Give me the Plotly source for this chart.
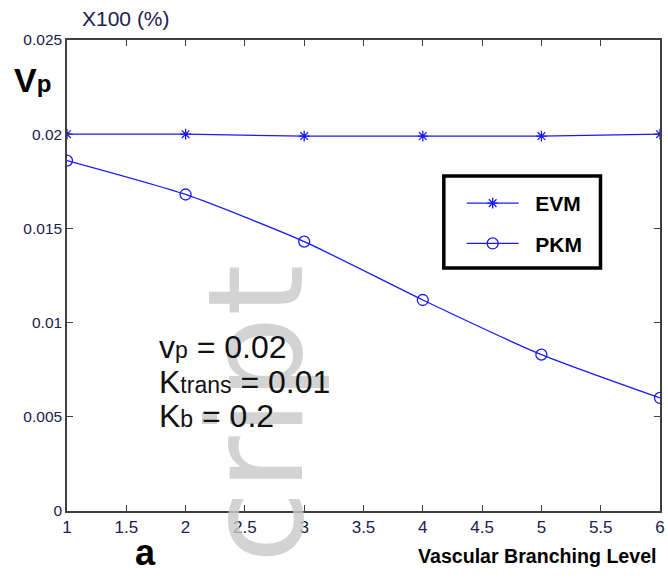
import plotly.graph_objects as go

levels = [1, 2, 3, 4, 5, 6]
evm = [0.0200, 0.0200, 0.0199, 0.0199, 0.0199, 0.0200]
pkm = [0.0186, 0.0168, 0.0143, 0.0112, 0.0083, 0.0060]
x_ticks = [1, 1.5, 2, 2.5, 3, 3.5, 4, 4.5, 5, 5.5, 6]
x_ticklabels = ["1", "1.5", "2", "2.5", "3", "3.5", "4", "4.5", "5", "5.5", "6"]
y_ticks = [0, 0.005, 0.01, 0.015, 0.02, 0.025]
y_ticklabels = ["0", "0.005", "0.01", "0.015", "0.02", "0.025"]

blue = "#1a1aff"
nb = "\u00a0"
fig = go.Figure()
fig.add_trace(go.Scatter(
    x=levels, y=evm, name=nb * 2 + "<b>EVM</b>", mode="lines+markers", legendgroup="a",
    line=dict(color=blue, width=1.3),
    marker=dict(symbol="asterisk-open", size=9, line=dict(color=blue, width=1.3), color=blue),
))
fig.add_trace(go.Scatter(
    x=levels, y=pkm, name=nb * 2 + "<b>PKM</b>", mode="lines+markers", legendgroup="b",
    line=dict(color=blue, width=1.3, shape="spline", smoothing=0.6),
    marker=dict(symbol="circle-open", size=11, line=dict(color=blue, width=1.3), color=blue),
))

tick_color = "#202050"
axis_common = dict(
    showline=True, linecolor="#404040", linewidth=1.5, mirror="ticks",
    ticks="inside", ticklen=6, tickcolor="#404040", tickwidth=1.3,
    showgrid=False, zeroline=False,
)
fig.update_xaxes(range=[1, 6], tickvals=x_ticks, ticktext=x_ticklabels,
                 tickfont=dict(family="Liberation Sans Narrow, Arial Narrow, Liberation Sans, Arial", size=17, color=tick_color),
                 **axis_common)
fig.update_yaxes(range=[0, 0.025], tickvals=y_ticks, ticktext=y_ticklabels,
                 tickfont=dict(family="Liberation Sans, Arial", size=15.5, color=tick_color),
                 **axis_common)

L, R, T, B = 67, 3, 40, 69
W, H = 668 - L - R, 580 - T - B

def px(xp, yp):
    return (xp - L) / W, (580 - B - yp) / H

ann_font = dict(family="Liberation Sans, Arial", size=32, color="#111111")
anns = [
    ("X100 (%)", 80, 18, dict(family="Liberation Sans, Arial", size=21, color=tick_color)),
    ("<b>V<span style='font-size:24px'>p</span></b>", 12, 80, dict(family="Liberation Sans, Arial", size=34, color="#000000")),
    ("<b>a</b>", 134, 552, dict(family="Liberation Sans, Arial", size=36, color="#000000")),
    ("<b>Vascular Branching Level</b>", 419, 556, dict(family="Liberation Sans, Arial", size=19.6, color="#000000")),
    ("v<span style='font-size:23px'>p</span> = 0.02", 158, 347, ann_font),
    ("K<span style='font-size:23px'>trans</span> = 0.01", 158, 382, ann_font),
    ("K<span style='font-size:23px'>b</span> = 0.2", 158, 416, ann_font),
]
annotations = []
# watermark first so it sits below the other texts
wx, wy = px(258, 414)
annotations.append(dict(
    text="cript", xref="paper", yref="paper", x=wx, y=wy,
    xanchor="center", yanchor="middle", showarrow=False, textangle=-90,
    font=dict(family="DejaVu Sans", size=132, color="rgba(200,200,200,0.8)"),
))
for text, xp_, yp_, font in anns:
    x, y = px(xp_, yp_)
    annotations.append(dict(
        text=text, xref="paper", yref="paper", x=x, y=y,
        xanchor="left", yanchor="middle", showarrow=False, font=font,
    ))

bx0, by0 = px(447, 176)
bx1, by1 = px(605, 268)
lx, ly = px(465, 183)
fig.update_layout(
    width=668, height=580,
    margin=dict(l=L, r=R, t=T, b=B),
    paper_bgcolor="white", plot_bgcolor="white",
    showlegend=True,
    legend=dict(
        x=lx, y=ly, xanchor="left", yanchor="top",
        borderwidth=0, bgcolor="rgba(0,0,0,0)",
        font=dict(family="Liberation Sans, Arial", size=21, color="#000000"),
        tracegroupgap=10, itemwidth=52,
    ),
    shapes=[dict(type="rect", xref="paper", yref="paper", x0=bx0, y0=by0, x1=bx1, y1=by1,
                 line=dict(color="black", width=3.5), fillcolor="white", layer="above")],
    annotations=annotations,
)
fig.write_html("out.html", post_script="document.body.style.margin='0';",
               config={"displayModeBar": False})
